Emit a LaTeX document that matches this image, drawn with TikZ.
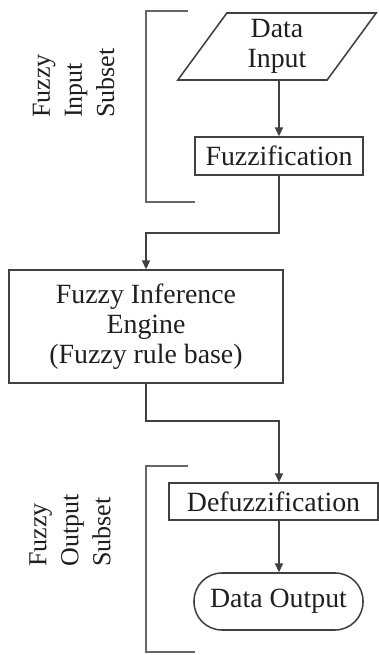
\documentclass[tikz,border=0pt]{standalone}
\usepackage{fontspec}
\setmainfont{Liberation Serif}
\usetikzlibrary{positioning,shapes.geometric,arrows.meta}
\definecolor{linegray}{gray}{0.25}
\definecolor{textgray}{gray}{0.12}
\tikzset{
	flowbox/.style={draw=linegray, line width=1.1pt, text=textgray, align=center, inner sep=0pt, font=\fontsize{19.8}{21.3}\selectfont},
	iobox/.style={flowbox, trapezium, trapezium left angle=62, trapezium right angle=118, trapezium stretches=true},
	termbox/.style={flowbox, rounded corners=0.7cm},
	flowline/.style={draw=linegray, line width=1.1pt, -{Triangle[length=0.22cm,width=0.2cm]}},
	bracketline/.style={draw=linegray!80, line width=1.6pt},
	sidelabel/.style={rotate=90, anchor=west, align=left, inner sep=0pt, text=textgray, font=\fontsize{18.5}{22.8}\selectfont}
}
\newcommand{\subsetbracket}[1]{\draw[bracketline] (1.05,0) -- (0,0) -- (0,-#1) -- (1.225,-#1);}

\begin{document}
\begin{tikzpicture}

					\useasboundingbox (0,0) rectangle (9.475,16.375);

					\begin{scope}[xshift = 3.65cm, yshift = 16.1cm]
						\subsetbracket{4.775}
					\end{scope}

					\begin{scope}[xshift = 3.65cm, yshift = 4.725cm]
						\subsetbracket{4.65}
					\end{scope}

					\node[sidelabel] (insubset) at (1.84,13.425) {Fuzzy\\Input\\Subset};
					\node[sidelabel] (outsubset) at (1.75,2.2) {Fuzzy\\Output\\Subset};

					\node[iobox, minimum width=5cm, minimum height=1.675cm] (input) at (6.925,15.2125) {Data\\Input};
					\node[flowbox, minimum width=4.2cm, minimum height=0.95cm] (fuzz) at (6.975,12.475) {Fuzzification};
					\node[flowbox, minimum width=6.85cm, minimum height=2.825cm] (inf) at (3.65,8.2125) {Fuzzy Inference\\Engine\\(Fuzzy rule base)};
					\node[flowbox, minimum width=5.225cm, minimum height=0.925cm] (defuzz) at (6.8375,3.8375) {Defuzzification};
					\node[termbox, minimum width=4.225cm, minimum height=1.425cm] (output) at (6.9625,1.3375) {Data Output};

					\draw[flowline] (fuzz.north |- input.south) -- (fuzz.north);
					\draw[flowline] (fuzz.south) -- ++(0,-1.425) -| (inf.north);
					\draw[flowline] (inf.south) -- ++(0,-0.925) -| (fuzz.south |- defuzz.north);
					\draw[flowline] (fuzz.south |- defuzz.south) -- (fuzz.south |- output.north);

\end{tikzpicture}
\end{document}
